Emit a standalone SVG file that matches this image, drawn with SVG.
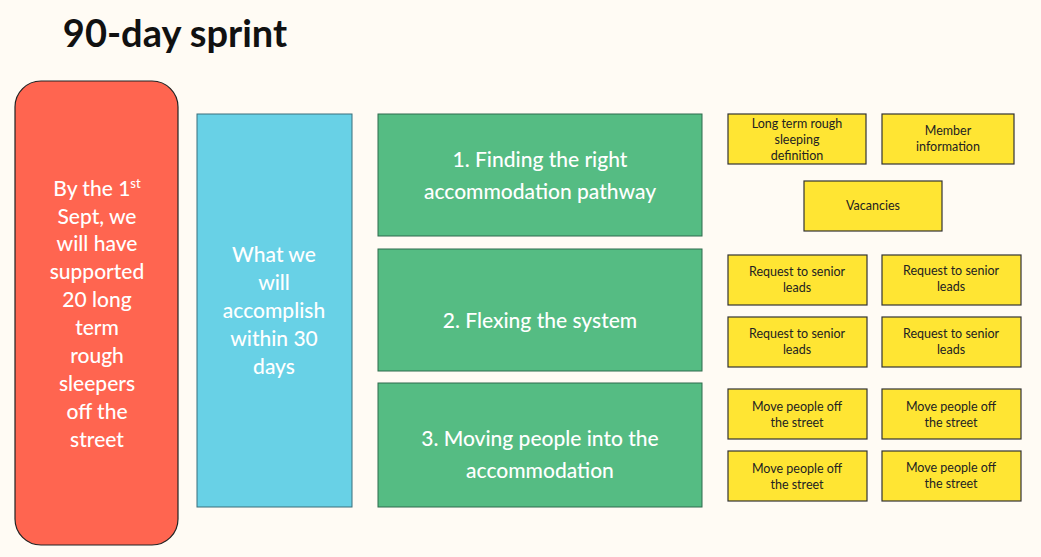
<svg xmlns="http://www.w3.org/2000/svg" width="1041" height="557" viewBox="0 0 1041 557">
<style>
text{font-family:"Lato","Open Sans","Liberation Sans",sans-serif;text-anchor:middle}
.w{fill:#fff;font-size:21px;font-weight:500}
.y rect{fill:#ffe533;stroke:#333;stroke-width:1.2}
.y text{fill:#222;font-size:12.5px}
.g rect{fill:#55bc83;stroke:#2f6b4d;stroke-width:1}
</style>
<rect width="1041" height="557" fill="#fffbf4"/>
<text x="175" y="47" text-anchor="middle" style="font-size:38px;font-weight:bold;fill:#111">90-day sprint</text>
<g id="goal"><rect x="15" y="81" width="163" height="464" rx="26" fill="#ff6550" stroke="#222" stroke-width="1.2"/>
<text class="w"><tspan x="97" y="196">By the 1<tspan font-size="13" dy="-8">st</tspan></tspan><tspan x="97" y="224">Sept, we</tspan><tspan x="97" y="251">will have</tspan><tspan x="97" y="279">supported</tspan><tspan x="97" y="307">20 long</tspan><tspan x="97" y="335">term</tspan><tspan x="97" y="363">rough</tspan><tspan x="97" y="391">sleepers</tspan><tspan x="97" y="419">off the</tspan><tspan x="97" y="447">street</tspan></text></g>
<g id="accomplish"><rect x="197" y="114" width="155" height="393" fill="#68d1e6" stroke="#3a6f7a" stroke-width="1"/>
<text class="w"><tspan x="274" y="262">What we</tspan><tspan x="274" y="290">will</tspan><tspan x="274" y="318">accomplish</tspan><tspan x="274" y="346">within 30</tspan><tspan x="274" y="374">days</tspan></text></g>
<g id="g1" class="g"><rect x="378" y="114" width="324" height="122"/><text class="w"><tspan x="540" y="167">1.    Finding the right</tspan><tspan x="540" y="199">accommodation pathway</tspan></text></g>
<g id="g2" class="g"><rect x="378" y="249" width="324" height="122"/><text class="w" x="540" y="328">2.    Flexing the system</text></g>
<g id="g3" class="g"><rect x="378" y="383" width="324" height="124"/><text class="w"><tspan x="540" y="446">3.  Moving people into the</tspan><tspan x="540" y="478">accommodation</tspan></text></g>
<g class="y">
<g id="y1"><rect x="728" y="114" width="138" height="50"/><text><tspan x="797" y="128">Long term rough</tspan><tspan x="797" y="144">sleeping</tspan><tspan x="797" y="160">definition</tspan></text></g>
<g id="y2"><rect x="882" y="114" width="132" height="50"/><text><tspan x="948" y="135">Member</tspan><tspan x="948" y="151">information</tspan></text></g>
<g id="y3"><rect x="804" y="181" width="138" height="50"/><text x="873" y="210">Vacancies</text></g>
<g id="y4"><rect x="728" y="255" width="139" height="50"/><text><tspan x="797" y="276">Request to senior</tspan><tspan x="797" y="292">leads</tspan></text></g>
<g id="y5"><rect x="882" y="255" width="139" height="50"/><text><tspan x="951" y="275">Request to senior</tspan><tspan x="951" y="291">leads</tspan></text></g>
<g id="y6"><rect x="728" y="317" width="139" height="50"/><text><tspan x="797" y="338">Request to senior</tspan><tspan x="797" y="354">leads</tspan></text></g>
<g id="y7"><rect x="882" y="317" width="139" height="50"/><text><tspan x="951" y="338">Request to senior</tspan><tspan x="951" y="354">leads</tspan></text></g>
<g id="y8"><rect x="728" y="389" width="139" height="50"/><text><tspan x="797" y="411">Move people off</tspan><tspan x="797" y="427">the street</tspan></text></g>
<g id="y9"><rect x="882" y="389" width="139" height="50"/><text><tspan x="951" y="411">Move people off</tspan><tspan x="951" y="427">the street</tspan></text></g>
<g id="y10"><rect x="728" y="451" width="139" height="50"/><text><tspan x="797" y="473">Move people off</tspan><tspan x="797" y="489">the street</tspan></text></g>
<g id="y11"><rect x="882" y="451" width="139" height="50"/><text><tspan x="951" y="472">Move people off</tspan><tspan x="951" y="488">the street</tspan></text></g>
</g>
<g id="connectors"/>
</svg>
